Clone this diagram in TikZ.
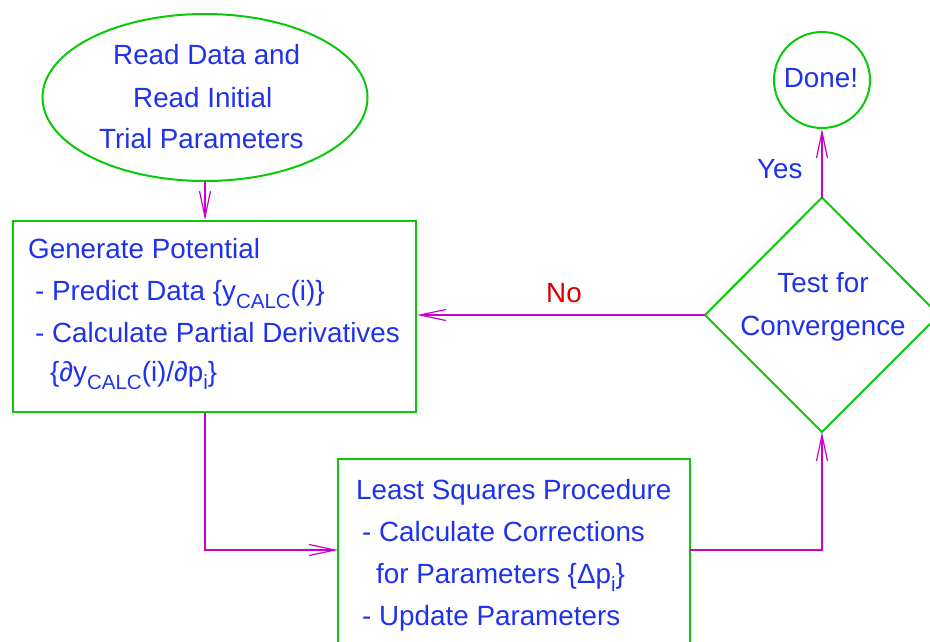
\documentclass[tikz,border=0pt]{standalone}
\usepackage{fontspec}
\setmainfont{Liberation Sans}
\usetikzlibrary{arrows.meta,shapes.geometric}
\definecolor{tblue}{RGB}{30,50,238}
\definecolor{lgreen}{RGB}{10,200,10}
\definecolor{amag}{RGB}{204,0,204}
\definecolor{nred}{RGB}{215,0,0}
\newcommand\lowtxt[1]{\raisebox{-8.5pt}{\fontsize{20.5}{20.5}\selectfont #1}}
\begin{document}
\begin{tikzpicture}[x=1pt,y=-1pt,
  txt/.style={text=tblue,font=\fontsize{27.8}{33}\selectfont,inner sep=0pt,anchor=base west},
  ctxt/.style={txt,anchor=base},
  frame/.style={draw=lgreen,line width=2pt,inner sep=0pt},
  conn/.style={draw=amag,line width=1.2pt,-{Straight Barb[length=26pt,width=11pt]}}]
\useasboundingbox (0,0) rectangle (930,642);
\clip (0,0) rectangle (930,642);
% shapes
\node[frame,ellipse,minimum width=325pt,minimum height=167pt] (ell) at (205,97.5) {};
\node[frame,rectangle,minimum width=403pt,minimum height=191pt] (box1) at (214.5,316.5) {};
\node[frame,rectangle,minimum width=352pt,minimum height=221pt] (box2) at (514,569.5) {};
\node[frame,circle,minimum size=96pt] (done) at (822,80) {};
\coordinate (dT) at (822,197.5);
\coordinate (dB) at (822,432);
\coordinate (dL) at (705,315);
\coordinate (dR) at (939,315);
\draw[lgreen,line width=2pt] (dT) -- (dR) -- (dB) -- (dL) -- cycle;
\coordinate (b2in) at (338,550);
\coordinate (b2out) at (690,550);
% texts
\node[txt] (e1) at (113,65) {Read Data and};
\node[txt] (e2) at (133,107) {Read Initial};
\node[txt] (e3) at (99,148) {Trial Parameters};
\node[txt] (g1) at (28,258) {Generate Potential};
\node[txt] (g2) at (35,300) {- Predict Data \{y\lowtxt{CALC}(i)\}};
\node[txt] (g3) at (35,342) {- Calculate Partial Derivatives};
\node[txt] (g4) at (50,381) {\{∂y\lowtxt{CALC}(i)/∂p\lowtxt{i}\}};
\node[txt] (l1) at (356,499) {Least Squares Procedure};
\node[txt] (l2) at (362,541) {- Calculate Corrections};
\node[txt] (l3) at (376,583) {for Parameters \{Δp\lowtxt{i}\}};
\node[txt] (l4) at (362,625) {- Update Parameters};
\node[ctxt] (t1) at (823,292) {Test for};
\node[ctxt] (t2) at (823,335) {Convergence};
\node[ctxt] (dn) at (821,88) {Done!};
\node[txt] (yes) at (757,178) {Yes};
\node[ctxt,text=nred] (no) at (564,302) {No};
% connectors
\draw[conn] (ell.south) -- (box1.north -| ell.south);
\draw[conn] (box1.south -| ell.south) |- (b2in);
\draw[conn] (b2out) -| (dB);
\draw[conn] (dL) -- (dL -| box1.east);
\draw[conn] (dT) -- (done.south);
\end{tikzpicture}
\end{document}
